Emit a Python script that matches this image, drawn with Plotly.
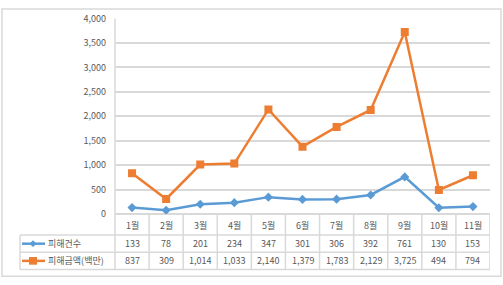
import plotly.graph_objects as go

W, H = 503, 285
months = ["1월", "2월", "3월", "4월", "5월", "6월", "7월", "8월", "9월", "10월", "11월"]
series1_name = "피해건수"
series1 = [133, 78, 201, 234, 347, 301, 306, 392, 761, 130, 153]
series2_name = "피해금액(백만)"
series2 = [837, 309, 1014, 1033, 2140, 1379, 1783, 2129, 3725, 494, 794]

BLUE = "#5b9bd5"
ORANGE = "#ed7d31"
GRID = "#d9d9d9"
TXT = "#595959"
FONT = "Noto Sans CJK KR"


def px(x):
    return x / W


def py(y):
    return 1 - y / H


PLOT_L, PLOT_R, PLOT_T, PLOT_B = 115, 490, 12, 217
TBL_L = 20
ROW_LINES = [239, 257, 275]
ROW_Y = [229, 248, 266]

fig = go.Figure()
fig.add_trace(go.Scatter(x=months, y=series1, mode="lines+markers", name=series1_name,
                         line=dict(color=BLUE, width=2.5),
                         marker=dict(symbol="diamond", size=7, color=BLUE)))
fig.add_trace(go.Scatter(x=months, y=series2, mode="lines+markers", name=series2_name,
                         line=dict(color=ORANGE, width=2.5),
                         marker=dict(symbol="square", size=8, color=ORANGE)))

shapes = []
# outer chart border
shapes.append(dict(type="rect", xref="paper", yref="paper", x0=px(2), x1=px(501), y0=py(2), y1=py(282),
                   line=dict(color=GRID, width=1.5)))
# y axis line extending into table
shapes.append(dict(type="line", xref="paper", yref="paper", x0=px(PLOT_L), x1=px(PLOT_L),
                   y0=py(PLOT_T), y1=py(ROW_LINES[-1]), line=dict(color=GRID, width=1.5)))
# table vertical lines between categories
n = len(months)
for k in range(1, n + 1):
    shapes.append(dict(type="line", xref="x", yref="paper", x0=k - 0.5, x1=k - 0.5,
                       y0=py(PLOT_B), y1=py(ROW_LINES[-1]), line=dict(color=GRID, width=1.5)))
# table left border for data rows
shapes.append(dict(type="line", xref="paper", yref="paper", x0=px(TBL_L), x1=px(TBL_L),
                   y0=py(ROW_LINES[0]), y1=py(ROW_LINES[-1]), line=dict(color=GRID, width=1.5)))
# table horizontal lines
for yl in ROW_LINES:
    shapes.append(dict(type="line", xref="paper", yref="paper", x0=px(TBL_L), x1=px(PLOT_R),
                       y0=py(yl), y1=py(yl), line=dict(color=GRID, width=1.5)))
# legend keys
for yk, col, sym in [(ROW_Y[1], BLUE, "diamond"), (ROW_Y[2], ORANGE, "square")]:
    shapes.append(dict(type="line", xref="paper", yref="paper", x0=px(22), x1=px(45),
                       y0=py(yk), y1=py(yk), line=dict(color=col, width=2.5)))
    cx = 33
    if sym == "diamond":
        path = (f"M {px(cx-3.5)},{py(yk)} L {px(cx)},{py(yk-3.5)} L {px(cx+3.5)},{py(yk)} "
                f"L {px(cx)},{py(yk+3.5)} Z")
        shapes.append(dict(type="path", xref="paper", yref="paper", path=path,
                           fillcolor=col, line=dict(color=col, width=0)))
    else:
        shapes.append(dict(type="rect", xref="paper", yref="paper", x0=px(cx - 4), x1=px(cx + 4),
                           y0=py(yk - 4), y1=py(yk + 4), fillcolor=col, line=dict(color=col, width=0)))

annotations = []
tf = dict(family=FONT, size=9, color=TXT)
for i, m in enumerate(months):
    for row, txt in [(0, m), (1, f"{series1[i]:,}"), (2, f"{series2[i]:,}")]:
        annotations.append(dict(x=m, y=py(ROW_Y[row]), xref="x", yref="paper", text=txt,
                                showarrow=False, xanchor="center", yanchor="middle", font=tf))
for yk, name in [(ROW_Y[1], series1_name), (ROW_Y[2], series2_name)]:
    annotations.append(dict(x=px(46), y=py(yk), xref="paper", yref="paper", text=name, xanchor="left",
                            yanchor="middle", showarrow=False, font=tf))

fig.update_layout(
    width=W, height=H, margin=dict(l=0, r=0, t=0, b=0),
    paper_bgcolor="white", plot_bgcolor="white", showlegend=False,
    font=dict(family=FONT, size=9, color=TXT),
    xaxis=dict(domain=[px(PLOT_L), px(PLOT_R)], range=[-0.5, n - 0.5], showticklabels=False,
               showgrid=False, zeroline=False, showline=False, ticks="", fixedrange=True),
    yaxis=dict(domain=[py(PLOT_B), py(PLOT_T)], range=[0, 4000], dtick=500, tickformat=",",
               showgrid=True, gridcolor=GRID, gridwidth=1.5, zeroline=True, zerolinecolor=GRID,
               zerolinewidth=1.5, showline=False, ticks="", ticklabelstandoff=8,
               tickfont=dict(family=FONT, size=9, color=TXT)),
    shapes=shapes, annotations=annotations,
)
fig.write_html("out.html", config={"displayModeBar": False},
               post_script="document.body.style.margin='0';document.body.style.overflow='hidden';")
